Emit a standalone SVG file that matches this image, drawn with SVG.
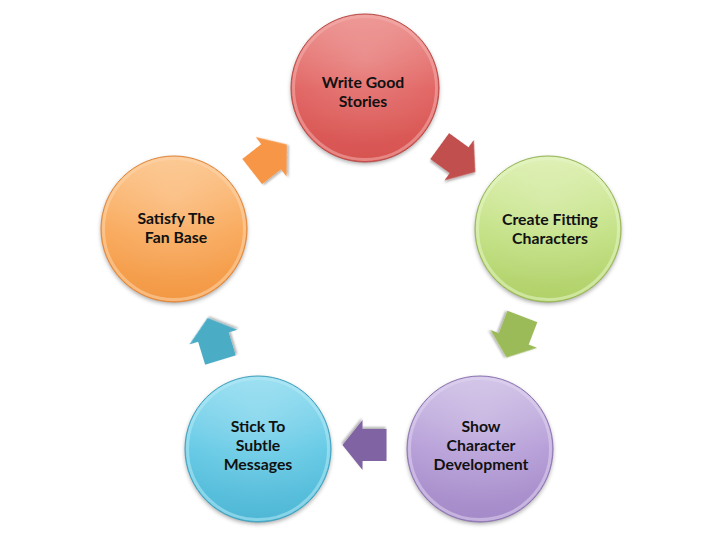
<svg xmlns="http://www.w3.org/2000/svg" width="720" height="540" viewBox="0 0 720 540">
<style>
.lbl{font-family:Lato,"Liberation Sans",sans-serif;font-weight:700;font-size:15.8px;fill:#111;text-anchor:middle}
.rim{fill:none;stroke-width:3;stroke-opacity:0.55}
.edge{fill:none;stroke-width:1}
</style>
<defs>
<filter id="sh" x="-20%" y="-20%" width="140%" height="140%">
<feDropShadow dx="0" dy="2" stdDeviation="2" flood-color="#000" flood-opacity="0.35"/>
</filter>
<filter id="ash" x="-30%" y="-30%" width="160%" height="160%">
<feDropShadow dx="1" dy="2" stdDeviation="1.2" flood-color="#000" flood-opacity="0.3"/>
</filter>
<linearGradient id="gR" x1="0" y1="0" x2="0" y2="1"><stop offset="0" stop-color="#ec8f8c"/><stop offset="0.5" stop-color="#e16462"/><stop offset="1" stop-color="#d65350"/></linearGradient>
<linearGradient id="gG" x1="0" y1="0" x2="0" y2="1"><stop offset="0" stop-color="#dcefae"/><stop offset="0.5" stop-color="#c4e286"/><stop offset="1" stop-color="#b0d068"/></linearGradient>
<linearGradient id="gP" x1="0" y1="0" x2="0" y2="1"><stop offset="0" stop-color="#cfc0e6"/><stop offset="0.5" stop-color="#b59dd7"/><stop offset="1" stop-color="#a48ac8"/></linearGradient>
<linearGradient id="gB" x1="0" y1="0" x2="0" y2="1"><stop offset="0" stop-color="#94ddf1"/><stop offset="0.5" stop-color="#64c9e5"/><stop offset="1" stop-color="#4fb7d5"/></linearGradient>
<linearGradient id="gO" x1="0" y1="0" x2="0" y2="1"><stop offset="0" stop-color="#fcc48a"/><stop offset="0.5" stop-color="#f9a95b"/><stop offset="1" stop-color="#f29844"/></linearGradient>
<radialGradient id="hl" cx="0.5" cy="0.3" r="0.6"><stop offset="0" stop-color="#fff" stop-opacity="0.18"/><stop offset="1" stop-color="#fff" stop-opacity="0"/></radialGradient>
<path id="arr" d="M-22,-16 L2,-16 L2,-25 L22,0 L2,25 L2,16 L-22,16 Z"/>
</defs>
<rect width="720" height="540" fill="#fff"/>

<g id="connectors">
<use href="#arr" fill="#c0504d" filter="url(#ash)" transform="translate(457.5,159) rotate(36)"/>
<use href="#arr" fill="#9bbb59" filter="url(#ash)" transform="translate(514.5,337) rotate(111)"/>
<use href="#arr" fill="#8064a2" filter="url(#ash)" transform="translate(364.5,445) rotate(180)"/>
<use href="#arr" fill="#4bacc6" filter="url(#ash)" transform="translate(214,339) rotate(-107)"/>
<use href="#arr" fill="#f79646" filter="url(#ash)" transform="translate(269.5,158) rotate(-38)"/>
</g>

<g id="node-write">
<circle cx="365" cy="88" r="74" fill="url(#gR)" filter="url(#sh)"/>
<circle cx="365" cy="88" r="74" fill="url(#hl)"/>
<circle class="rim" cx="365" cy="88" r="71.5" stroke="#f4b0ae"/>
<circle class="edge" cx="365" cy="88" r="74" stroke="#b84845"/>
<text class="lbl" x="363" y="88">Write Good</text>
<text class="lbl" x="363" y="107">Stories</text>
</g>

<g id="node-create">
<circle cx="548" cy="229" r="73" fill="url(#gG)" filter="url(#sh)"/>
<circle cx="548" cy="229" r="73" fill="url(#hl)"/>
<circle class="rim" cx="548" cy="229" r="70.5" stroke="#e6f5c8"/>
<circle class="edge" cx="548" cy="229" r="73" stroke="#93b354"/>
<text class="lbl" x="550" y="225">Create Fitting</text>
<text class="lbl" x="550" y="244">Characters</text>
</g>

<g id="node-show">
<circle cx="480" cy="449" r="73" fill="url(#gP)" filter="url(#sh)"/>
<circle cx="480" cy="449" r="73" fill="url(#hl)"/>
<circle class="rim" cx="480" cy="449" r="70.5" stroke="#e0d6f0"/>
<circle class="edge" cx="480" cy="449" r="73" stroke="#8c72b0"/>
<text class="lbl" x="481" y="432">Show</text>
<text class="lbl" x="481" y="451">Character</text>
<text class="lbl" x="481" y="470">Development</text>
</g>

<g id="node-stick">
<circle cx="258" cy="449" r="73" fill="url(#gB)" filter="url(#sh)"/>
<circle cx="258" cy="449" r="73" fill="url(#hl)"/>
<circle class="rim" cx="258" cy="449" r="70.5" stroke="#b6e9f6"/>
<circle class="edge" cx="258" cy="449" r="73" stroke="#3e9fbb"/>
<text class="lbl" x="258" y="432">Stick To</text>
<text class="lbl" x="258" y="451">Subtle</text>
<text class="lbl" x="258" y="470">Messages</text>
</g>

<g id="node-satisfy">
<circle cx="174" cy="229" r="73" fill="url(#gO)" filter="url(#sh)"/>
<circle cx="174" cy="229" r="73" fill="url(#hl)"/>
<circle class="rim" cx="174" cy="229" r="70.5" stroke="#fdd6ac"/>
<circle class="edge" cx="174" cy="229" r="73" stroke="#e0853a"/>
<text class="lbl" x="176" y="224">Satisfy The</text>
<text class="lbl" x="176" y="243">Fan Base</text>
</g>
</svg>
